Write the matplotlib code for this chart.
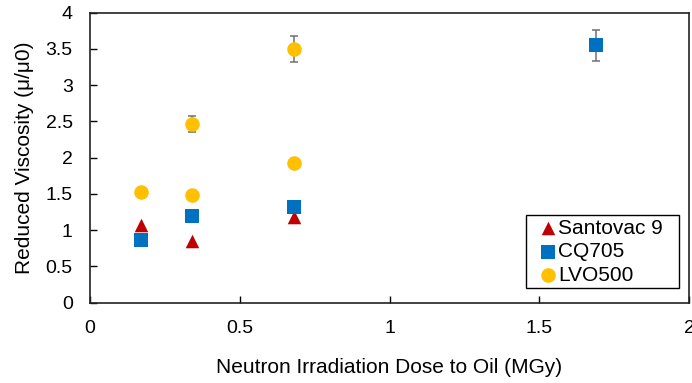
import matplotlib
matplotlib.use("Agg")
import matplotlib.pyplot as plt
from matplotlib.patches import Rectangle

plt.rcParams['font.family'] = ['Liberation Sans', 'DejaVu Sans']

santovac_x = [0.17, 0.34, 0.68]
santovac_y = [1.07, 0.85, 1.18]

cq705_x = [0.17, 0.34, 0.68, 1.69]
cq705_y = [0.87, 1.19, 1.32, 3.55]
cq705_err = [0, 0, 0, 0.21]

lvo_x = [0.17, 0.34, 0.34, 0.68, 0.68]
lvo_y = [1.53, 2.46, 1.48, 3.50, 1.93]
lvo_err = [0, 0.11, 0, 0.18, 0]

xticks = [0, 0.5, 1, 1.5, 2]
xticklabels = ['0', '0.5', '1', '1.5', '2']
yticks = [0, 0.5, 1, 1.5, 2, 2.5, 3, 3.5, 4]
yticklabels = ['0', '0.5', '1', '1.5', '2', '2.5', '3', '3.5', '4']

W, H = 692, 383
fig = plt.figure(figsize=(W/100, H/100), dpi=100)
ax = fig.add_axes([90/W, (H-302.7)/H, 599/W, 290/H])

errc = '#707070'
ax.errorbar(cq705_x, cq705_y, yerr=[e if e > 0 else float('nan') for e in cq705_err],
            fmt='none', ecolor=errc, elinewidth=1.1, capsize=2.6, capthick=1.1, zorder=2)
ax.errorbar(lvo_x, lvo_y, yerr=[e if e > 0 else float('nan') for e in lvo_err],
            fmt='none', ecolor=errc, elinewidth=1.1, capsize=2.6, capthick=1.1, zorder=2)

ax.scatter(santovac_x, santovac_y, marker='^', s=95, color='#C00000', label='Santovac 9', zorder=3, linewidths=0)
ax.scatter(cq705_x, cq705_y, marker='s', s=100, color='#0070C0', label='CQ705', zorder=3, linewidths=0)
ax.scatter(lvo_x, lvo_y, marker='o', s=110, color='#FFC000', label='LVO500', zorder=3, linewidths=0)

ax.set_xlim(0, 2)
ax.set_ylim(0, 4)
ax.set_xticks(xticks)
ax.set_xticklabels(xticklabels)
ax.set_yticks(yticks)
ax.set_yticklabels(yticklabels)
ax.tick_params(direction='in', length=5, width=1, labelsize=14, pad=12.5, colors='black')
for s in ax.spines.values():
    s.set_linewidth(1.2)
    s.set_color('#222222')

ax.set_xlabel('Neutron Irradiation Dose to Oil (MGy)', fontsize=15, labelpad=15)
ax.set_ylabel('Reduced Viscosity (\u03bc/\u03bc0)', fontsize=15, labelpad=8)

# legend frame (drawn separately to match box padding)
ax.add_patch(Rectangle((526/W, 1 - 288/H), (679-526)/W, (288-215)/H,
                       transform=fig.transFigure, facecolor='white', clip_on=False,
                       edgecolor='black', linewidth=1.0, zorder=4))
leg = ax.legend(loc='upper left', bbox_to_anchor=(539.7/W, 1 - 218.5/H), bbox_transform=fig.transFigure,
                fontsize=15, frameon=False,
                handletextpad=0.1, handlelength=0.8, borderpad=0, labelspacing=0.22,
                borderaxespad=0)
leg.set_zorder(5)

fig.savefig('out.png', dpi=100)
